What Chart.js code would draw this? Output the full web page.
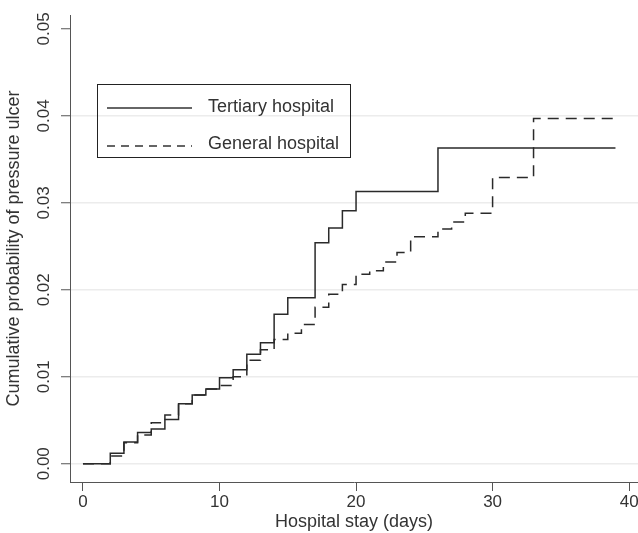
<!DOCTYPE html>
<html>
<head>
<meta charset="utf-8">
<script src="https://cdn.jsdelivr.net/npm/chart.js@4"></script>
<style>
  html, body { margin: 0; padding: 0; background: #fff; }
  #wrap { width: 638px; height: 533px; }
</style>
</head>
<body>
<div id="wrap"><canvas id="kmChart"></canvas></div>
<script>
// cumulative probability step curves (day of jump, value after jump)
const tertiaryDays = [0, 2, 3, 4, 5, 6, 7, 8, 9, 10, 11, 12, 13, 14, 15, 17, 18, 19, 20, 26, 39];
const tertiaryProb = [0, 0.0012, 0.0025, 0.0036, 0.0040, 0.0051, 0.0069, 0.0079, 0.0086, 0.0099, 0.0108, 0.0126, 0.0139, 0.0172, 0.0191, 0.0254, 0.0271, 0.0291, 0.0313, 0.0363, 0.0363];

const generalDays = [0, 2, 3, 4, 5, 6, 7, 8, 9, 10, 11, 12, 13, 14, 15, 16, 17, 18, 19, 20, 21, 22, 23, 24, 26, 27, 28, 30, 33, 39];
const generalProb = [0, 0.0009, 0.0024, 0.0033, 0.0047, 0.0056, 0.0069, 0.0079, 0.0086, 0.0090, 0.0100, 0.0119, 0.0131, 0.0143, 0.0150, 0.0160, 0.0180, 0.0195, 0.0206, 0.0218, 0.0222, 0.0232, 0.0243, 0.0261, 0.0270, 0.0278, 0.0288, 0.0329, 0.0397, 0.0397];

const seriesNames = ['Tertiary hospital', 'General hospital'];
const xTicks = [0, 10, 20, 30, 40];
const yTicks = [0, 0.01, 0.02, 0.03, 0.04, 0.05];

const toPoints = (xs, ys) => xs.map((x, i) => ({ x: x, y: ys[i] }));

const axisColor = '#555';
const textColor = '#333';
const fontFamily = '"Liberation Sans", Arial, sans-serif';

// legend box drawn by hand, Stata style
const boxLegend = {
    id: 'boxLegend',
    afterDraw(chart) {
        const ctx = chart.ctx;
        ctx.save();
        ctx.strokeStyle = '#222';
        ctx.lineWidth = 1;
        ctx.strokeRect(97.5, 84.5, 253, 73);
        ctx.font = '18px ' + fontFamily;
        ctx.fillStyle = textColor;
        ctx.textBaseline = 'middle';
        chart.data.datasets.forEach((ds, i) => {
            const y = i === 0 ? 108 : 146;
            ctx.strokeStyle = '#333';
            ctx.lineWidth = 1.3;
            ctx.setLineDash(i === 0 ? [] : [8, 6]);
            ctx.beginPath();
            ctx.moveTo(107, y);
            ctx.lineTo(192, y);
            ctx.stroke();
            ctx.setLineDash([]);
            ctx.fillText(seriesNames[i], 208, i === 0 ? 107 : 144);
        });
        ctx.restore();
    }
};

const ctx = document.getElementById('kmChart').getContext('2d');
const chart = new Chart(ctx, {
    type: 'line',
    data: {
        datasets: [{
            label: seriesNames[0],
            data: toPoints(tertiaryDays, tertiaryProb),
            borderColor: '#2a2a2a',
            borderWidth: 1.5,
            stepped: true,
            pointRadius: 0,
            fill: false
        }, {
            label: seriesNames[1],
            data: toPoints(generalDays, generalProb),
            borderColor: '#2a2a2a',
            borderWidth: 1.5,
            borderDash: [11, 7],
            stepped: true,
            pointRadius: 0,
            fill: false
        }]
    },
    options: {
        responsive: true,
        maintainAspectRatio: false,
        animation: false,
        layout: { padding: { top: 15, right: 0, left: 0, bottom: 0 } },
        plugins: {
            legend: { display: false },
            tooltip: { enabled: false }
        },
        scales: {
            x: {
                type: 'linear',
                min: -0.95,
                max: 40.65,
                afterBuildTicks: s => { s.ticks = xTicks.map(v => ({ value: v })); },
                afterFit: s => { s.height = 51; s.paddingLeft = 0; s.paddingRight = 0; },
                grid: { drawOnChartArea: false, tickLength: 9, tickColor: axisColor, tickWidth: 1 },
                border: { color: axisColor, width: 1 },
                ticks: {
                    padding: 1,
                    color: textColor,
                    font: { family: fontFamily, size: 17 },
                    maxRotation: 0,
                    callback: v => String(v)
                },
                title: {
                    display: true,
                    text: 'Hospital stay (days)',
                    color: textColor,
                    font: { family: fontFamily, size: 18 },
                    padding: { top: 0, bottom: 0 }
                }
            },
            y: {
                type: 'linear',
                min: -0.0021,
                max: 0.0516,
                afterBuildTicks: s => { s.ticks = yTicks.map(v => ({ value: v })); },
                afterFit: s => { s.width = 70; s.paddingTop = 0; s.paddingBottom = 0; },
                grid: {
                    color: c => (c.tick && c.tick.value >= 0.05) ? 'rgba(0,0,0,0)' : '#ececec',
                    lineWidth: 1.5,
                    tickLength: 9,
                    tickColor: axisColor,
                    tickWidth: 1
                },
                border: { color: axisColor, width: 1 },
                ticks: {
                    padding: 0,
                    minRotation: 90,
                    maxRotation: 90,
                    crossAlign: 'center',
                    color: textColor,
                    font: { family: fontFamily, size: 17 },
                    callback: v => v.toFixed(2)
                },
                title: {
                    display: true,
                    text: 'Cumulative probability of pressure ulcer',
                    color: textColor,
                    font: { family: fontFamily, size: 18 },
                    padding: { top: 3, bottom: 0 }
                }
            }
        }
    },
    plugins: [boxLegend]
});
</script>
</body>
</html>
